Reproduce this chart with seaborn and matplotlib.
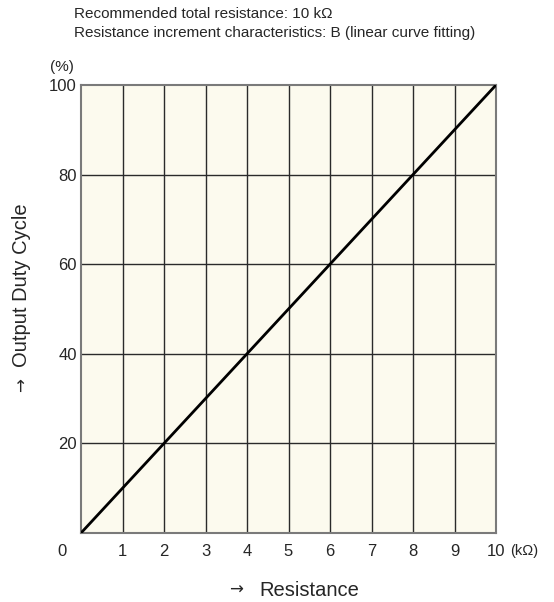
import matplotlib
matplotlib.use("Agg")
import matplotlib.pyplot as plt
import seaborn as sns
import pandas as pd

# data
resistance = [0, 2, 4, 6, 8, 10]          # kOhm
duty_cycle = [0, 20, 40, 60, 80, 100]     # %
x_ticks = [1, 2, 3, 4, 5, 6, 7, 8, 9, 10]
y_ticks = [20, 40, 60, 80, 100]
title_lines = ["Recommended total resistance: 10 k\u03a9",
               "Resistance increment characteristics: B (linear curve fitting)"]

sns.set_style("white")
plt.rcParams['font.family'] = ['Liberation Sans', 'DejaVu Sans']

df = pd.DataFrame({'resistance': resistance, 'duty': duty_cycle})

W, H = 554, 602
fig = plt.figure(figsize=(W / 100, H / 100), dpi=100)
ax = fig.add_axes([81 / W, 1 - 533 / H, (496 - 81) / W, (533 - 85) / H])
ax.set_facecolor('#fcfaee')

for xv in x_ticks[:-1]:
    ax.axvline(xv, color='#2a2a2a', lw=1.0, zorder=1)
for yv in y_ticks[:-1]:
    ax.axhline(yv, color='#2a2a2a', lw=1.0, zorder=1)

sns.lineplot(data=df, x='resistance', y='duty', color='black', lw=2.0, ax=ax, zorder=3)

ax.set_xlim(0, 10)
ax.set_ylim(0, 100)
ax.set_xticks(x_ticks)
ax.set_xticklabels([str(v) for v in x_ticks], fontsize=12)
ax.set_yticks(y_ticks)
ax.set_yticklabels([str(v) for v in y_ticks], fontsize=12)
ax.tick_params(axis='both', length=0)
ax.tick_params(axis='x', pad=8)
ax.tick_params(axis='y', pad=3)
for s in ax.spines.values():
    s.set_color('#7a7a7a')
    s.set_linewidth(1.5)
ax.set_xlabel('')
ax.set_ylabel('')

def fx(px):
    return px / W

def fy(py):
    return 1 - py / H

# extra labels
fig.text(fx(62), fy(551), '0', fontsize=12, ha='center', va='center')
fig.text(fx(510), fy(551), '(k\u03a9)', fontsize=10.5, ha='left', va='center')
fig.text(fx(62), fy(67), '(%)', fontsize=11, ha='center', va='center')
fig.text(fx(236), fy(590), '\u2192', fontsize=12, ha='center', va='center',
         family='DejaVu Sans')
fig.text(fx(259), fy(590), 'Resistance', fontsize=14.5, ha='left', va='center')
fig.text(fx(22), fy(385), '\u2192', fontsize=12, ha='center', va='center',
         rotation=90, family='DejaVu Sans')
fig.text(fx(22), fy(285), 'Output Duty Cycle', fontsize=14.5, ha='center',
         va='center', rotation=90)
fig.text(fx(74), fy(14), title_lines[0], fontsize=11, ha='left', va='center')
fig.text(fx(74), fy(33), title_lines[1], fontsize=11, ha='left', va='center')

fig.savefig('out.png', dpi=100)
